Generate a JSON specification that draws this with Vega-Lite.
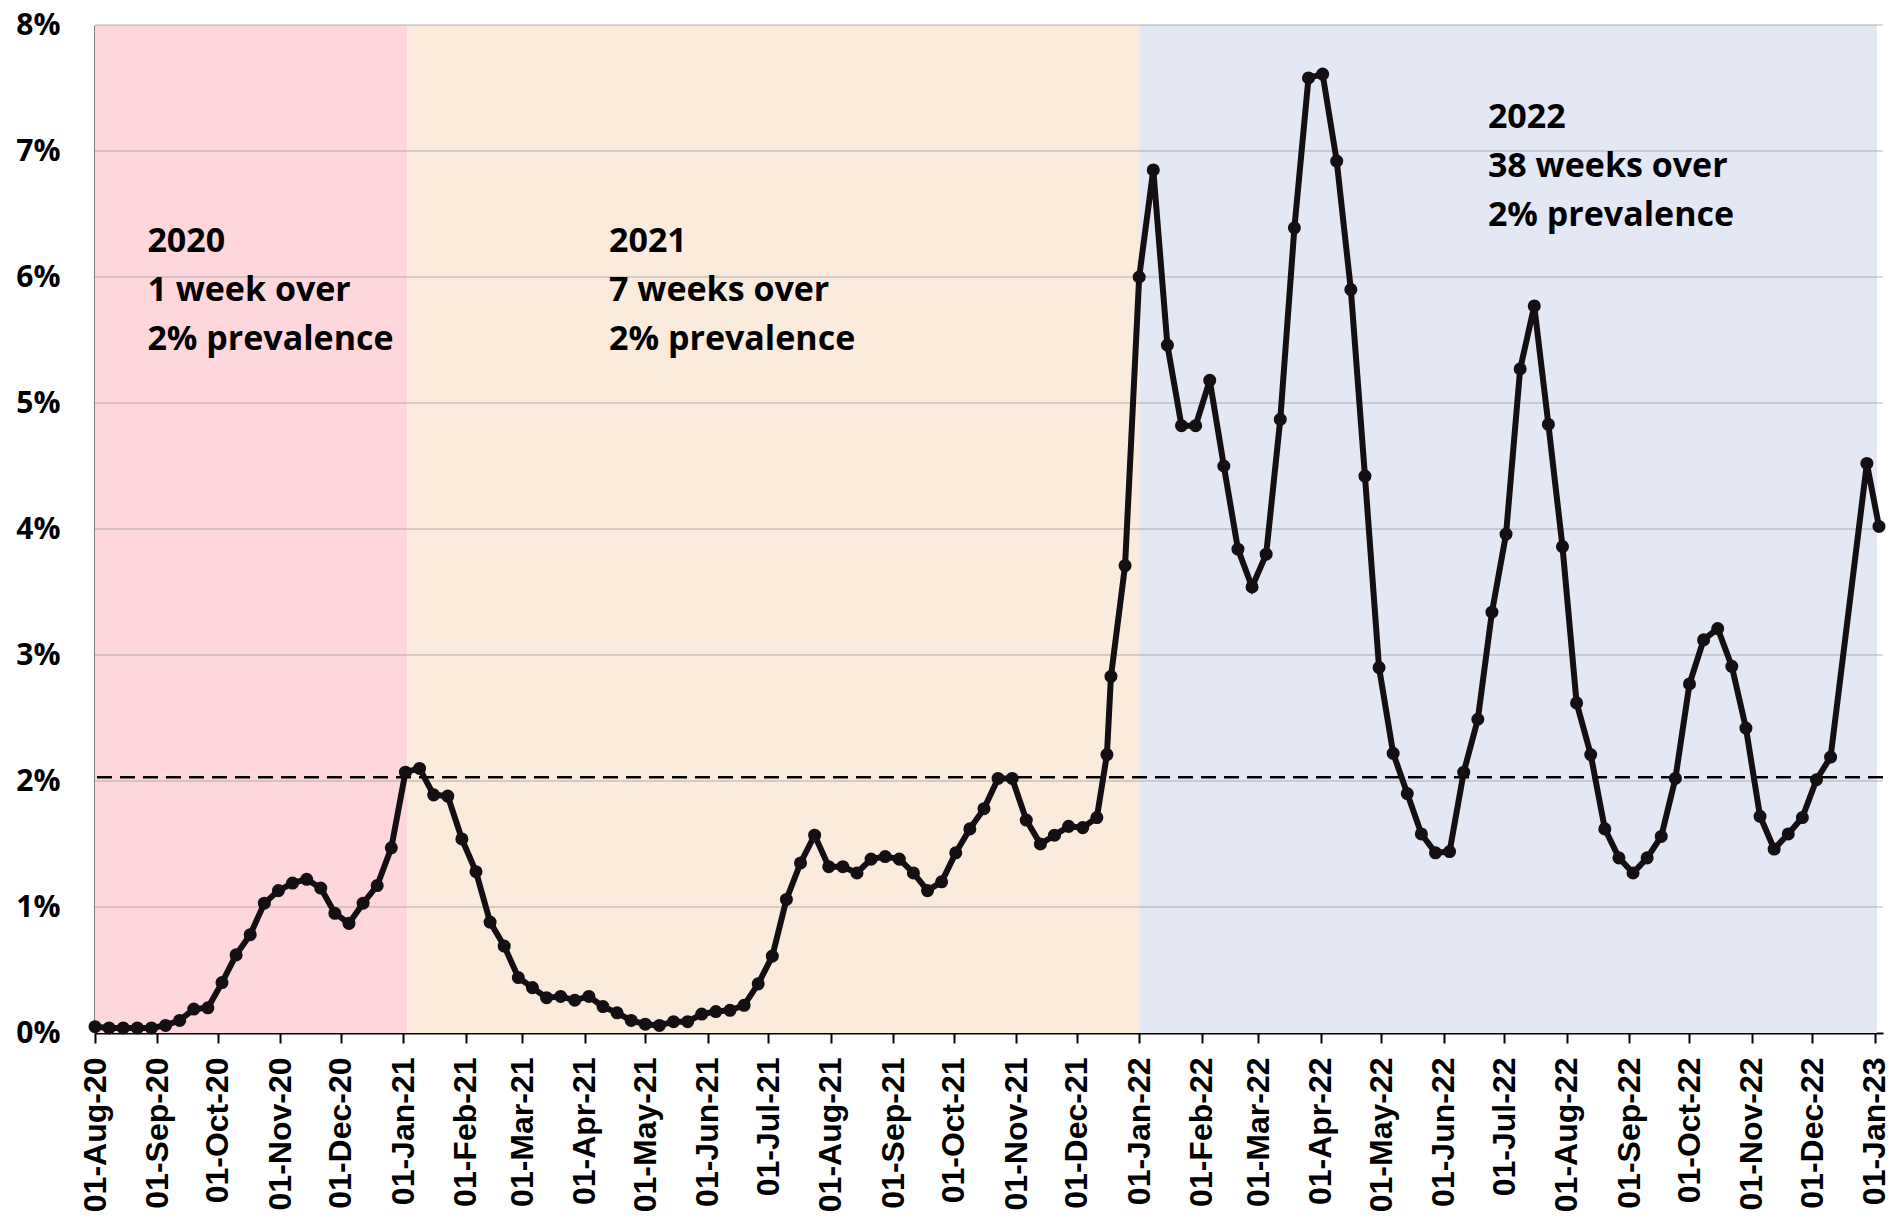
{
  "$schema": "https://vega.github.io/schema/vega-lite/v6.json",
  "width": 1788,
  "height": 1008,
  "autosize": {"type": "none"},
  "padding": {"left": 95, "top": 25, "right": 20, "bottom": 190},
  "background": "white",
  "config": {
    "view": {"stroke": null},
    "axisX": {
      "domainColor": "#000000", "domainWidth": 2, "tickColor": "#000000", "tickWidth": 2, "tickSize": 10,
      "labelPadding": 14, "labelFont": "Liberation Sans", "labelFontWeight": "bold", "labelFontSize": 32,
      "labelColor": "#000000", "labelAngle": 270, "grid": false, "title": null, "format": "%d-%b-%y",
      "tickCount": {"interval": "month", "step": 1}, "labelOverlap": false, "labelFlush": false
    },
    "axisY": {
      "domainColor": "#000000", "domainWidth": 2, "ticks": false, "grid": false, "title": null,
      "labelPadding": 35, "labelFont": "Open Sans", "labelFontWeight": "bold", "labelFontSize": 30,
      "labelColor": "#000000"
    }
  },
  "datasets": {
    "bands": [
      {"start": "2020-08-01", "end": "2021-01-03", "period": "2020"},
      {"start": "2021-01-03", "end": "2022-01-01", "period": "2021"},
      {"start": "2022-01-01", "end": "2023-01-02", "period": "2022"}
    ],
    "grid": [{"g": 1}, {"g": 2}, {"g": 3}, {"g": 4}, {"g": 5}, {"g": 6}, {"g": 7}, {"g": 8}],
    "series": [
      {"date": "2020-08-01", "pct": 0.05}, {"date": "2020-08-08", "pct": 0.04}, {"date": "2020-08-15", "pct": 0.04},
      {"date": "2020-08-22", "pct": 0.04}, {"date": "2020-08-29", "pct": 0.04}, {"date": "2020-09-05", "pct": 0.06},
      {"date": "2020-09-12", "pct": 0.10}, {"date": "2020-09-19", "pct": 0.19}, {"date": "2020-09-26", "pct": 0.20},
      {"date": "2020-10-03", "pct": 0.40}, {"date": "2020-10-10", "pct": 0.62}, {"date": "2020-10-17", "pct": 0.78},
      {"date": "2020-10-24", "pct": 1.03}, {"date": "2020-10-31", "pct": 1.13}, {"date": "2020-11-07", "pct": 1.19},
      {"date": "2020-11-14", "pct": 1.22}, {"date": "2020-11-21", "pct": 1.15}, {"date": "2020-11-28", "pct": 0.95},
      {"date": "2020-12-05", "pct": 0.87}, {"date": "2020-12-12", "pct": 1.03}, {"date": "2020-12-19", "pct": 1.17},
      {"date": "2020-12-26", "pct": 1.47}, {"date": "2021-01-02", "pct": 2.07}, {"date": "2021-01-09", "pct": 2.10},
      {"date": "2021-01-16", "pct": 1.89}, {"date": "2021-01-23", "pct": 1.88}, {"date": "2021-01-30", "pct": 1.54},
      {"date": "2021-02-06", "pct": 1.28}, {"date": "2021-02-13", "pct": 0.88}, {"date": "2021-02-20", "pct": 0.69},
      {"date": "2021-02-27", "pct": 0.44}, {"date": "2021-03-06", "pct": 0.36}, {"date": "2021-03-13", "pct": 0.28},
      {"date": "2021-03-20", "pct": 0.29}, {"date": "2021-03-27", "pct": 0.26}, {"date": "2021-04-03", "pct": 0.29},
      {"date": "2021-04-10", "pct": 0.21}, {"date": "2021-04-17", "pct": 0.16}, {"date": "2021-04-24", "pct": 0.10},
      {"date": "2021-05-01", "pct": 0.07}, {"date": "2021-05-08", "pct": 0.06}, {"date": "2021-05-15", "pct": 0.09},
      {"date": "2021-05-22", "pct": 0.09}, {"date": "2021-05-29", "pct": 0.15}, {"date": "2021-06-05", "pct": 0.17},
      {"date": "2021-06-12", "pct": 0.18}, {"date": "2021-06-19", "pct": 0.22}, {"date": "2021-06-26", "pct": 0.39},
      {"date": "2021-07-03", "pct": 0.61}, {"date": "2021-07-10", "pct": 1.06}, {"date": "2021-07-17", "pct": 1.35},
      {"date": "2021-07-24", "pct": 1.57}, {"date": "2021-07-31", "pct": 1.32}, {"date": "2021-08-07", "pct": 1.32},
      {"date": "2021-08-14", "pct": 1.27}, {"date": "2021-08-21", "pct": 1.38}, {"date": "2021-08-28", "pct": 1.40},
      {"date": "2021-09-04", "pct": 1.38}, {"date": "2021-09-11", "pct": 1.27}, {"date": "2021-09-18", "pct": 1.13},
      {"date": "2021-09-25", "pct": 1.20}, {"date": "2021-10-02", "pct": 1.43}, {"date": "2021-10-09", "pct": 1.62},
      {"date": "2021-10-16", "pct": 1.78}, {"date": "2021-10-23", "pct": 2.02}, {"date": "2021-10-30", "pct": 2.02},
      {"date": "2021-11-06", "pct": 1.69}, {"date": "2021-11-13", "pct": 1.50}, {"date": "2021-11-20", "pct": 1.57},
      {"date": "2021-11-27", "pct": 1.64}, {"date": "2021-12-04", "pct": 1.63}, {"date": "2021-12-11", "pct": 1.71},
      {"date": "2021-12-16", "pct": 2.21}, {"date": "2021-12-18", "pct": 2.83}, {"date": "2021-12-25", "pct": 3.71},
      {"date": "2022-01-01", "pct": 6.00}, {"date": "2022-01-08", "pct": 6.85}, {"date": "2022-01-15", "pct": 5.46},
      {"date": "2022-01-22", "pct": 4.82}, {"date": "2022-01-29", "pct": 4.82}, {"date": "2022-02-05", "pct": 5.18},
      {"date": "2022-02-12", "pct": 4.50}, {"date": "2022-02-19", "pct": 3.84}, {"date": "2022-02-26", "pct": 3.54},
      {"date": "2022-03-05", "pct": 3.80}, {"date": "2022-03-12", "pct": 4.87}, {"date": "2022-03-19", "pct": 6.39},
      {"date": "2022-03-26", "pct": 7.58}, {"date": "2022-04-02", "pct": 7.61}, {"date": "2022-04-09", "pct": 6.92},
      {"date": "2022-04-16", "pct": 5.90}, {"date": "2022-04-23", "pct": 4.42}, {"date": "2022-04-30", "pct": 2.90},
      {"date": "2022-05-07", "pct": 2.22}, {"date": "2022-05-14", "pct": 1.90}, {"date": "2022-05-21", "pct": 1.58},
      {"date": "2022-05-28", "pct": 1.43}, {"date": "2022-06-04", "pct": 1.44}, {"date": "2022-06-11", "pct": 2.07},
      {"date": "2022-06-18", "pct": 2.49}, {"date": "2022-06-25", "pct": 3.34}, {"date": "2022-07-02", "pct": 3.96},
      {"date": "2022-07-09", "pct": 5.27}, {"date": "2022-07-16", "pct": 5.77}, {"date": "2022-07-23", "pct": 4.83},
      {"date": "2022-07-30", "pct": 3.86}, {"date": "2022-08-06", "pct": 2.62}, {"date": "2022-08-13", "pct": 2.21},
      {"date": "2022-08-20", "pct": 1.62}, {"date": "2022-08-27", "pct": 1.39}, {"date": "2022-09-03", "pct": 1.27},
      {"date": "2022-09-10", "pct": 1.39}, {"date": "2022-09-17", "pct": 1.56}, {"date": "2022-09-24", "pct": 2.02},
      {"date": "2022-10-01", "pct": 2.77}, {"date": "2022-10-08", "pct": 3.12}, {"date": "2022-10-15", "pct": 3.21},
      {"date": "2022-10-22", "pct": 2.91}, {"date": "2022-10-29", "pct": 2.42}, {"date": "2022-11-05", "pct": 1.72},
      {"date": "2022-11-12", "pct": 1.46}, {"date": "2022-11-19", "pct": 1.58}, {"date": "2022-11-26", "pct": 1.71},
      {"date": "2022-12-03", "pct": 2.01}, {"date": "2022-12-10", "pct": 2.19}, {"date": "2022-12-28", "pct": 4.52},
      {"date": "2023-01-03", "pct": 4.02}
    ]
  },
  "layer": [
    {
      "data": {"name": "bands"},
      "mark": {"type": "rect"},
      "encoding": {
        "x": {"field": "start", "type": "temporal", "scale": {"type": "utc", "domain": [{"year": 2020, "month": 8, "date": 1, "utc": true}, {"year": 2023, "month": 1, "date": 5, "utc": true}]}},
        "x2": {"field": "end"},
        "y": {"datum": 0, "type": "quantitative", "scale": {"domain": [0, 8], "nice": false},
          "axis": {"values": [0, 1, 2, 3, 4, 5, 6, 7, 8], "labelExpr": "datum.value + '%'"}},
        "y2": {"datum": 8},
        "color": {"field": "period", "type": "nominal", "legend": null,
          "scale": {"domain": ["2020", "2021", "2022"], "range": ["#fed7dc", "#fbebdd", "#e3e8f4"]}}
      }
    },
    {
      "data": {"name": "grid"},
      "mark": {"type": "rule", "color": "#9a9a9a", "strokeWidth": 1.5, "opacity": 0.5},
      "encoding": {"y": {"field": "g", "type": "quantitative"}}
    },
    {
      "data": {"values": [{}]},
      "mark": {"type": "rule", "color": "#000000", "strokeWidth": 2.5, "strokeDash": [15, 8]},
      "encoding": {"y": {"datum": 2.03, "type": "quantitative"}}
    },
    {
      "data": {"name": "series"},
      "mark": {"type": "line", "color": "#130f12", "strokeWidth": 6},
      "encoding": {
        "x": {"field": "date", "type": "temporal"},
        "y": {"field": "pct", "type": "quantitative"}
      }
    },
    {
      "data": {"name": "series"},
      "mark": {"type": "point", "filled": true, "size": 170, "color": "#130f12", "opacity": 1},
      "encoding": {
        "x": {"field": "date", "type": "temporal"},
        "y": {"field": "pct", "type": "quantitative"}
      }
    },
    {
      "data": {"values": [{}]},
      "mark": {"type": "text", "text": ["2020", "1 week over", "2% prevalence"], "align": "left", "baseline": "alphabetic",
        "lineHeight": 49, "font": "Open Sans", "fontWeight": "bold", "fontSize": 34, "color": "#000000"},
      "encoding": {
        "x": {"datum": {"year": 2020, "month": 8, "date": 27, "utc": true}, "type": "temporal"},
        "y": {"datum": 6.2, "type": "quantitative"}
      }
    },
    {
      "data": {"values": [{}]},
      "mark": {"type": "text", "text": ["2021", "7 weeks over", "2% prevalence"], "align": "left", "baseline": "alphabetic",
        "lineHeight": 49, "font": "Open Sans", "fontWeight": "bold", "fontSize": 34, "color": "#000000"},
      "encoding": {
        "x": {"datum": {"year": 2021, "month": 4, "date": 13, "utc": true}, "type": "temporal"},
        "y": {"datum": 6.2, "type": "quantitative"}
      }
    },
    {
      "data": {"values": [{}]},
      "mark": {"type": "text", "text": ["2022", "38 weeks over", "2% prevalence"], "align": "left", "baseline": "alphabetic",
        "lineHeight": 49, "font": "Open Sans", "fontWeight": "bold", "fontSize": 34, "color": "#000000"},
      "encoding": {
        "x": {"datum": {"year": 2022, "month": 6, "date": 23, "utc": true}, "type": "temporal"},
        "y": {"datum": 7.18, "type": "quantitative"}
      }
    }
  ]
}
